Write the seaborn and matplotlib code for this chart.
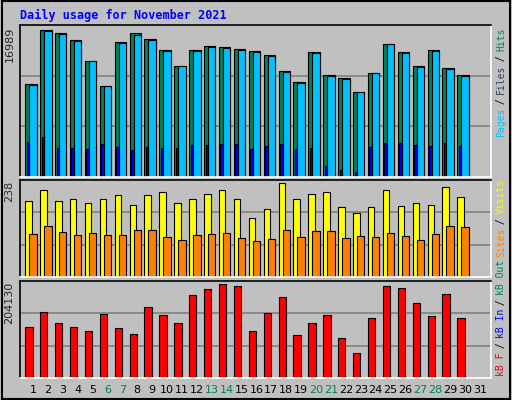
import numpy as np
import seaborn as sns
import matplotlib.pyplot as plt
from matplotlib.patches import Rectangle

days = list(range(1, 31))
hits = [10763, 16989, 16644, 15837, 13415, 10532, 15606, 16644, 15952, 14683,
        12838, 14683, 15145, 15029, 14799, 14568, 14107, 12262, 10993, 14453,
        11801, 11455, 9840, 12031, 15375, 14453, 12838, 14683, 12607, 11801]
files = [10650, 16870, 16530, 15720, 13415, 10532, 15490, 16410, 15840, 14570,
         12838, 14570, 15030, 14910, 14680, 14450, 13990, 12150, 10880, 14340,
         11690, 11340, 9840, 12031, 15375, 14340, 12720, 14570, 12490, 11690]
pages = [4075, 4651, 3383, 3383, 3267, 3844, 3498, 3152, 3498, 3383,
         3383, 3729, 3729, 3844, 3844, 3267, 3613, 3844, 3267, 3383,
         1307, 846, 615, 3498, 3959, 3959, 3729, 3613, 3959, 3613]
visits = [194, 222, 194, 197, 189, 199, 207, 184, 209, 217,
          189, 199, 212, 222, 199, 150, 173, 238, 199, 212,
          215, 178, 163, 178, 222, 181, 189, 184, 228, 204]
sites = [109, 129, 114, 106, 111, 106, 106, 119, 119, 101,
         93, 106, 109, 111, 98, 91, 96, 119, 101, 116,
         116, 98, 103, 101, 111, 103, 93, 109, 129, 127]
kbytes = [110260, 143785, 119200, 110260, 101320, 139315, 108025, 96850, 154960, 137080,
          119200, 181780, 192955, 204130, 199660, 101320, 141550, 177310, 94615, 119200,
          137080, 87910, 54385, 130375, 199660, 195190, 163900, 134845, 184015, 130375]
tick_days = list(range(1, 32))
weekend = [6, 7, 13, 14, 20, 21, 27, 28]

sns.set_style("white")
bg = "#C0C0C0"
W, H = 512, 400
fig = plt.figure(figsize=(5.12, 4.0), dpi=100, facecolor=bg)
mono = "DejaVu Sans Mono"


def px_axes(x0, y0, x1, y1):
    return fig.add_axes([x0 / W, 1 - y1 / H, (x1 - x0) / W, (y1 - y0) / H])


def style(ax, top):
    ax.set_facecolor(bg)
    ax.set_xlim(0.13, 31.74)
    ax.set_ylim(0, top)
    for y in (top / 3, 2 * top / 3):
        ax.axhline(y, color="#808080", lw=1.2, zorder=0)
    ax.set_xticks([])
    ax.set_yticks([])
    for s in ("left", "top"):
        ax.spines[s].set_color("black")
    for s in ("right", "bottom"):
        ax.spines[s].set_color("white")
    for s in ax.spines.values():
        s.set_linewidth(1.2)


d = np.array(days)
kw = dict(align="edge", edgecolor="black", linewidth=0.8)

ax1 = px_axes(20, 25, 491, 177)
style(ax1, max(hits) * 1.035)
ax1.bar(d - 0.52, hits, width=0.77, color="#00805C", **kw)
ax1.bar(d - 0.25, files, width=0.5, color="#00C0FF", **kw)
ax1.bar(d - 0.42, pages, width=0.17, color="#0000FF", **kw)

ax2 = px_axes(20, 180, 491, 277)
style(ax2, max(visits) * 1.035)
ax2.bar(d - 0.52, visits, width=0.44, color="#FFFF00", **kw)
ax2.bar(d - 0.25, sites, width=0.5, color="#FF8000", **kw)

ax3 = px_axes(20, 281, 491, 378)
style(ax3, max(kbytes) * 1.035)
ax3.bar(d - 0.52, kbytes, width=0.49, color="#FF0000", **kw)

for day in tick_days:
    ax3.text(day, -0.12, str(day), transform=ax3.get_xaxis_transform(),
             ha="center", va="center", fontsize=8,
             color="#00805C" if day in weekend else "black")

fig.text(20 / W, 1 - 15 / H, "Daily usage for November 2021", family=mono,
         weight="bold", fontsize=8.5, color="#0000FF", va="center")
for ax, val in ((ax1, max(hits)), (ax2, max(visits)), (ax3, max(kbytes))):
    ax.text(-0.012, 0.99, str(val), transform=ax.transAxes, rotation=90,
            ha="right", va="top", fontsize=8)

step = 5.4


def vlabel(parts, py):
    for txt, col in parts:
        fig.text(501 / W, 1 - py / H, txt, rotation=90, family=mono,
                 fontsize=7, color=col, ha="center", va="bottom")
        py -= step * len(txt)


vlabel([("Pages", "#00C0FF"), (" / ", "black"), ("Files", "#304060"),
        (" / ", "black"), ("Hits", "#00805C")], 137)
vlabel([("kB F", "#FF0000"), (" / ", "black"), ("kB In", "#0000FF"),
        (" / ", "black"), ("kB Out", "#00805C"), (" ", "black"),
        ("Sites", "#FF8000"), (" / ", "black"), ("Visits", "#FFFF00")], 376)

fig.patches.append(Rectangle((0.003, 0.003), 0.994, 0.994, transform=fig.transFigure,
                             fill=False, edgecolor="black", lw=1.5))
fig.savefig("out.png", dpi=100, facecolor=bg)
